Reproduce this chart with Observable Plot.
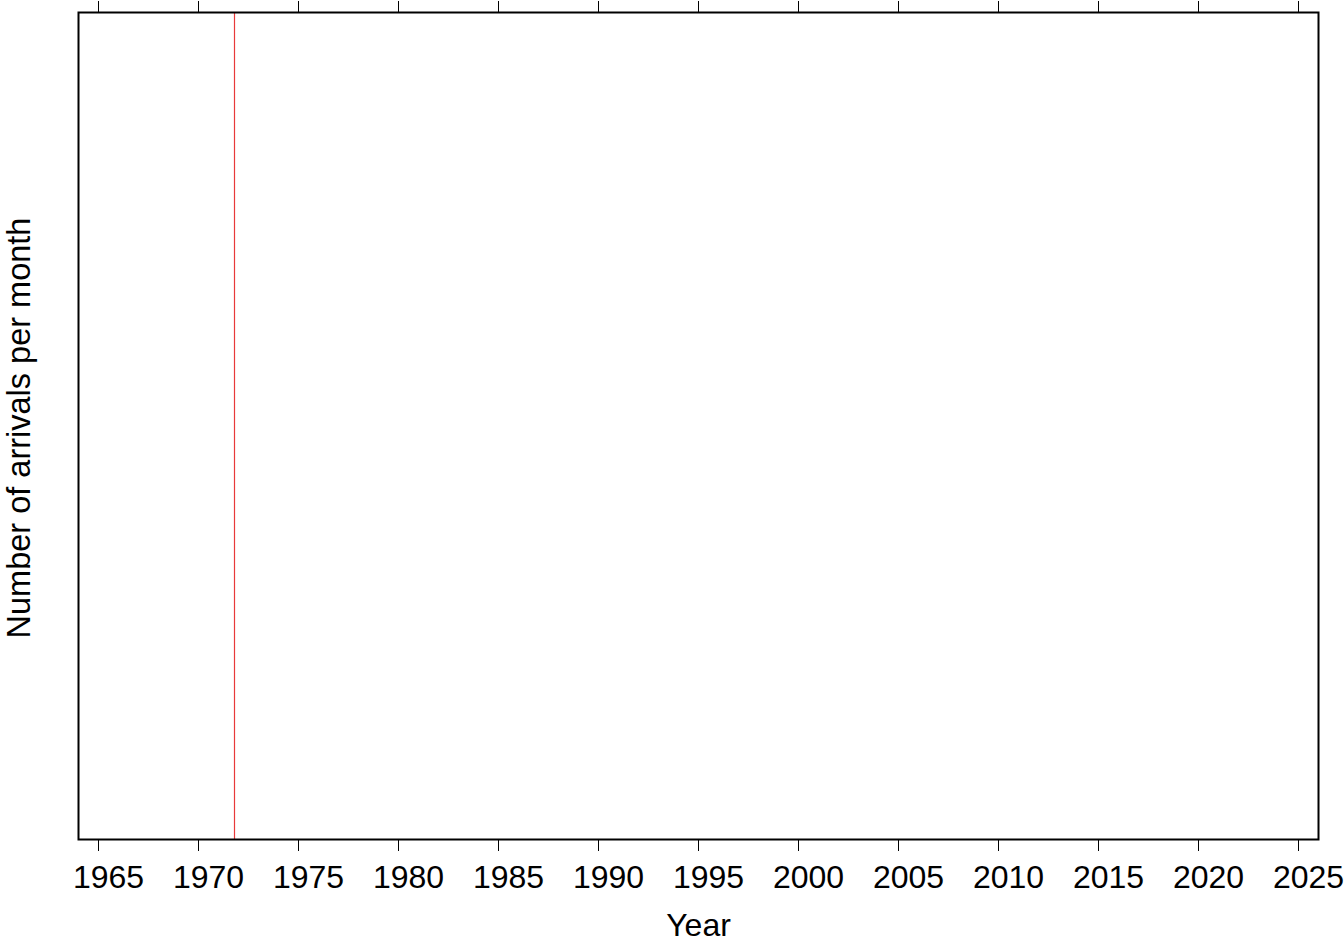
<!DOCTYPE html>
<html>
<head>
<meta charset="utf-8">
<script src="https://cdn.jsdelivr.net/npm/d3@7"></script>
<script src="https://cdn.jsdelivr.net/npm/@observablehq/plot@0.6"></script>
<style>
  html, body { margin: 0; padding: 0; background: white; }
</style>
</head>
<body>
<div id="chart"></div>
<script>
const tickYears = [1965, 1970, 1975, 1980, 1985, 1990, 1995, 2000, 2005, 2010, 2015, 2020, 2025];
const xDomain = [1964, 2026];
const eventYears = [1971.8];
const xLabel = "Year";
const yLabel = "Number of arrivals per month";

const chart = Plot.plot({
  width: 1344,
  height: 942,
  marginLeft: 78,
  marginRight: 26,
  marginTop: 12,
  marginBottom: 103,
  style: {fontFamily: "'Liberation Sans', Arial, Helvetica, sans-serif", fontSize: "32px", background: "white", color: "black"},
  x: {domain: xDomain},
  y: {domain: [0, 1], axis: null},
  marks: [
    Plot.ruleX(eventYears, {stroke: "#e8393a", strokeWidth: 1.2}),
    Plot.frame({stroke: "black", strokeWidth: 2}),
    // bottom tick lines
    Plot.axisX({anchor: "bottom", ticks: tickYears, tickSize: 12, tickFormat: () => "", label: null}),
    // bottom tick labels (slightly offset to the right as in the reference)
    Plot.axisX({anchor: "bottom", ticks: tickYears, tickSize: 0, tickPadding: 26, dx: 10, tickFormat: "d", label: null}),
    // top tick lines
    Plot.axisX({anchor: "top", ticks: tickYears, tickSize: 12, tickFormat: () => "", label: null}),
    // axis titles
    Plot.text([xLabel], {text: d => d, frameAnchor: "bottom", dy: 96, lineAnchor: "bottom", textAnchor: "middle", fontSize: 32}),
    Plot.text([yLabel], {text: d => d, frameAnchor: "left", rotate: -90, dx: -49, dy: 2, lineAnchor: "bottom", textAnchor: "middle", fontSize: 32.5})
  ]
});
document.getElementById("chart").appendChild(chart);
</script>
</body>
</html>
